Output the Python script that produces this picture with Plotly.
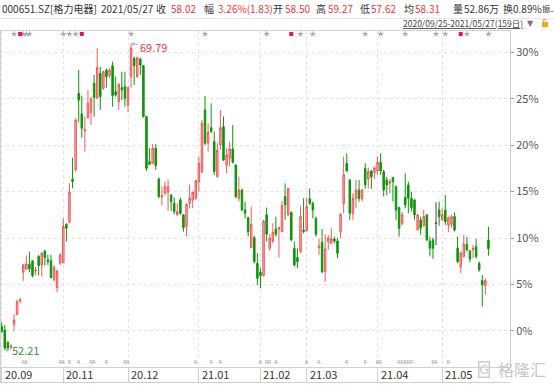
import pandas as pd
import plotly.graph_objects as go

# ---------------- data ----------------
holidays = ["2020-10-01", "2020-10-02", "2020-10-05", "2020-10-06", "2020-10-07", "2020-10-08",
            "2021-01-01", "2021-02-11", "2021-02-12", "2021-02-15", "2021-02-16", "2021-02-17",
            "2021-04-05", "2021-05-03", "2021-05-04", "2021-05-05"]
dates = [d.strftime("%Y-%m-%d") for d in pd.bdate_range("2020-09-25", "2021-05-27")
         if d.strftime("%Y-%m-%d") not in holidays]

opens = [53.55, 53.36, 52.65, 52.36, 53.68, 54.26, 55.02, 56.67, 56.84, 57.13,
         57.32, 56.74, 57.57, 57.09, 57.89, 57.37, 57.32, 56.23, 55.79, 57.18,
         57.22, 59.42, 59.53, 62.00, 62.54, 66.93, 65.75, 64.77, 65.54, 65.84,
         67.51, 66.69, 68.08, 67.22, 68.27, 67.95, 68.52, 67.03, 66.46, 67.26,
         67.32, 66.26, 67.89, 68.94, 67.89, 68.90, 68.52, 65.60, 63.01, 62.92,
         63.78, 62.02, 60.99, 61.20, 61.26, 61.10, 60.62, 59.96, 60.82, 59.96,
         59.29, 60.62, 60.82, 60.91, 61.87, 62.40, 65.98, 64.07, 64.96, 64.16,
         62.15, 63.97, 65.02, 62.82, 63.21, 63.74, 62.82, 60.91, 61.39, 60.24,
         59.80, 58.08, 58.65, 57.18, 56.67, 56.48, 59.96, 58.04, 58.46, 59.15,
         59.15, 59.00, 61.01, 59.96, 60.11, 58.04, 57.51, 57.85, 59.09, 59.04,
         60.87, 60.62, 59.76, 58.08, 58.39, 56.70, 58.43, 58.33, 58.58, 58.46,
         59.00, 60.62, 62.92, 61.96, 60.05, 60.91, 61.39, 60.87, 62.63, 62.02,
         62.48, 62.40, 62.48, 62.98, 62.44, 61.96, 61.77, 62.10, 61.58, 60.38,
         59.48, 60.95, 61.68, 60.91, 60.82, 59.09, 59.67, 59.34, 59.96, 58.46,
         58.52, 59.48, 60.24, 59.67, 60.24, 59.38, 59.42, 59.86, 58.04, 56.99,
         57.57, 58.27, 57.89, 57.97, 58.14, 57.18, 56.19, 55.90, 58.50]
highs = [53.80, 53.65, 52.69, 52.54, 54.26, 55.08, 55.21, 57.13, 57.62, 57.85,
         57.37, 56.99, 57.66, 57.81, 57.95, 57.66, 57.66, 57.09, 56.80, 57.76,
         59.76, 59.48, 61.77, 63.24, 65.50, 68.27, 66.80, 65.60, 67.13, 66.74,
         67.99, 69.52, 68.46, 68.22, 68.37, 68.37, 68.75, 67.89, 67.51, 68.18,
         68.18, 67.32, 69.79, 69.04, 69.04, 68.98, 68.56, 65.63, 63.78, 64.01,
         64.01, 62.10, 61.58, 61.87, 62.00, 61.14, 60.95, 60.62, 60.95, 59.99,
         60.62, 61.71, 61.29, 61.96, 63.30, 65.40, 66.78, 65.21, 66.36, 64.74,
         64.10, 65.98, 65.60, 63.78, 64.16, 65.12, 62.86, 62.15, 61.45, 60.72,
         59.86, 60.43, 58.77, 57.76, 56.90, 59.67, 60.38, 58.85, 59.48, 59.86,
         59.29, 60.76, 61.77, 61.48, 60.15, 58.43, 58.04, 60.49, 60.91, 60.95,
         61.48, 60.72, 59.86, 58.58, 59.15, 58.85, 58.81, 59.19, 58.71, 58.62,
         60.05, 63.30, 63.49, 62.02, 61.20, 61.96, 61.96, 61.43, 62.92, 62.67,
         62.54, 62.73, 63.30, 63.49, 62.54, 62.15, 62.02, 62.15, 61.64, 60.43,
         60.11, 62.35, 61.87, 61.29, 60.82, 59.99, 59.86, 60.24, 59.99, 58.71,
         58.65, 60.68, 60.72, 60.34, 61.10, 59.86, 59.96, 60.11, 58.71, 57.85,
         58.81, 58.71, 57.95, 58.23, 58.58, 57.28, 56.51, 56.32, 59.27]
lows = [53.21, 52.21, 52.25, 52.25, 53.30, 54.18, 54.89, 56.17, 56.80, 56.67,
        56.38, 56.48, 56.48, 56.42, 57.05, 57.09, 56.32, 56.17, 55.52, 57.09,
        57.18, 58.43, 59.48, 61.48, 62.44, 65.27, 64.39, 63.59, 65.46, 65.12,
        65.60, 66.61, 65.98, 67.13, 67.26, 67.79, 66.17, 66.74, 65.98, 66.55,
        66.17, 65.84, 67.26, 67.41, 67.83, 67.99, 65.54, 62.48, 62.82, 62.86,
        62.54, 60.91, 60.49, 61.10, 60.19, 60.19, 59.99, 59.92, 59.96, 59.00,
        58.71, 60.34, 60.34, 60.82, 61.29, 62.40, 63.97, 63.59, 64.64, 62.25,
        62.10, 63.68, 63.05, 62.35, 62.73, 62.92, 60.91, 60.72, 60.19, 59.76,
        58.71, 58.04, 57.18, 55.94, 55.75, 56.42, 58.43, 57.89, 58.33, 58.71,
        57.51, 58.96, 59.67, 59.86, 58.46, 56.99, 56.90, 57.76, 58.90, 59.00,
        60.53, 59.76, 58.71, 57.66, 56.61, 56.13, 57.95, 58.27, 58.33, 57.47,
        58.62, 60.05, 62.44, 59.67, 59.67, 60.34, 60.72, 60.72, 61.45, 61.48,
        61.45, 62.02, 62.25, 62.25, 61.01, 61.10, 61.20, 60.72, 59.67, 58.71,
        59.34, 60.34, 60.05, 60.15, 59.67, 59.09, 58.81, 59.29, 58.46, 57.57,
        57.43, 58.23, 59.34, 59.61, 59.38, 58.96, 59.23, 59.00, 57.18, 56.61,
        57.51, 57.85, 57.24, 57.47, 57.47, 56.70, 54.70, 55.37, 57.62]
closes = [53.26, 52.31, 52.31, 52.44, 53.93, 54.98, 55.08, 57.09, 57.13, 56.86,
          56.48, 56.80, 57.05, 57.76, 57.51, 57.28, 56.36, 56.93, 56.74, 57.66,
          59.29, 59.19, 61.26, 61.87, 65.40, 66.55, 64.93, 64.83, 66.36, 66.61,
          66.69, 68.41, 66.74, 68.18, 67.89, 68.27, 66.80, 66.84, 67.45, 67.13,
          66.65, 67.26, 69.52, 68.52, 68.98, 68.56, 65.60, 62.63, 62.86, 63.78,
          62.79, 61.01, 61.06, 61.58, 61.58, 60.72, 60.15, 60.15, 60.05, 59.23,
          60.57, 60.91, 61.26, 61.92, 62.92, 65.21, 64.07, 64.70, 64.74, 62.44,
          63.68, 64.96, 63.11, 63.40, 63.74, 62.98, 61.01, 61.39, 60.24, 60.05,
          59.00, 59.42, 57.28, 56.32, 56.48, 59.61, 58.85, 58.62, 58.96, 58.85,
          59.23, 60.49, 60.53, 61.48, 58.52, 57.09, 57.28, 59.86, 59.00, 60.43,
          60.62, 60.24, 58.85, 58.16, 56.70, 58.00, 58.62, 58.58, 58.46, 57.76,
          59.99, 62.25, 62.48, 60.05, 60.91, 61.39, 60.91, 61.39, 61.68, 62.44,
          62.15, 62.67, 62.98, 62.48, 61.39, 61.68, 61.87, 61.87, 60.24, 59.19,
          59.96, 60.53, 60.91, 60.38, 59.96, 59.96, 59.19, 59.86, 58.52, 58.04,
          58.04, 59.48, 59.86, 59.96, 59.57, 59.80, 59.86, 59.09, 57.28, 57.76,
          58.27, 57.95, 57.43, 58.04, 57.57, 56.80, 55.94, 56.19, 58.02]

base_price = 53.30
pct_ticks = [0, 5, 10, 15, 20, 25, 30]
month_idx = [0, 20, 41, 64, 84, 99, 122, 143]
month_labels = ["20.09", "20.11", "20.12", "21.01", "21.02", "21.03", "21.04", "21.05"]
star_idx = [4, 7, 8, 9, 20, 22, 24, 42, 66, 86, 97, 101, 118, 123, 131, 141, 144, 151, 158]
flag_idx = [6, 26, 94, 149]
r_idx = [7, 8, 19, 20, 22, 25, 29, 30, 34, 40, 41, 63, 68, 71, 84, 86, 87, 89, 99, 103,
         112, 118, 122, 123, 129, 130, 131, 132, 133, 140, 141, 145]
hi_idx, lo_idx = 42, 1

# ---------------- figure ----------------
RED = "#f24848"
GREEN = "#0b960b"
doji = [i for i in range(len(dates)) if opens[i] == closes[i]]
norm = [i for i in range(len(dates)) if i not in doji]

fig = go.Figure()
fig.add_trace(go.Candlestick(
    x=[dates[i] for i in norm], open=[opens[i] for i in norm], high=[highs[i] for i in norm],
    low=[lows[i] for i in norm], close=[closes[i] for i in norm],
    increasing=dict(line=dict(color=RED, width=0.9), fillcolor="#ffb0b0"),
    decreasing=dict(line=dict(color=GREEN, width=1), fillcolor=GREEN),
    showlegend=False))
fig.add_trace(go.Candlestick(
    x=[dates[i] for i in doji], open=[opens[i] for i in doji], high=[highs[i] for i in doji],
    low=[lows[i] for i in doji], close=[closes[i] for i in doji],
    increasing=dict(line=dict(color="#444", width=1), fillcolor="#444"),
    decreasing=dict(line=dict(color="#444", width=1), fillcolor="#444"),
    showlegend=False))

# event markers on an overlay axis (0..1)
fig.add_trace(go.Scatter(x=[dates[i] for i in star_idx], y=[0.991] * len(star_idx), yaxis="y2",
                         mode="markers", marker=dict(symbol="star", size=5, color="#aaaaaa"),
                         hoverinfo="skip", showlegend=False))
fig.add_trace(go.Scatter(x=[dates[i] for i in flag_idx], y=[0.991] * len(flag_idx), yaxis="y2",
                         mode="markers", marker=dict(symbol="square", size=4, color="#e3174f"),
                         hoverinfo="skip", showlegend=False))
fig.add_trace(go.Scatter(x=[dates[i] for i in r_idx], y=[0.012] * len(r_idx), yaxis="y2",
                         mode="text", text=["R"] * len(r_idx),
                         textfont=dict(size=5, color="#9a9a9a", family="DejaVu Sans"),
                         hoverinfo="skip", showlegend=False))

FONT = "Noto Sans CJK SC"
ann = []
# high / low labels
ann.append(dict(x=dates[hi_idx], y=highs[hi_idx], xref="x", yref="y", text=f"{highs[hi_idx]:.2f}",
                showarrow=True, ax=22, ay=3, arrowcolor="#8fb7d9", arrowwidth=1, arrowhead=2,
                arrowsize=0.7, font=dict(size=11, color="#e8383d", family=FONT)))
ann.append(dict(x=dates[lo_idx], y=lows[lo_idx], xref="x", yref="y", text=f"{lows[lo_idx]:.2f}",
                showarrow=True, ax=21, ay=0, arrowcolor="#8fb7d9", arrowwidth=1, arrowhead=2,
                arrowsize=0.7, font=dict(size=11, color="#2c9a2c", family=FONT)))
# month labels
for i, lab in zip(month_idx, month_labels):
    ann.append(dict(x=dates[i], y=-0.022, xref="x", yref="paper", text=lab, showarrow=False,
                    xanchor="left", yanchor="middle", xshift=1,
                    font=dict(size=11, color="#333333", family=FONT)))

# header
W, PH, TOP = 510.0, 336.0, 31.0
def px(x):
    return x / W
def py(y):
    return (PH + TOP - y) / PH

last = len(dates) - 1
prev_close = closes[last - 1]
chg = closes[last] - prev_close
avg_price = 58.31
volume = "52.86万"
turnover = "0.89%"
header = [
    (1, "000651.SZ[格力电器]", "#333333", 10),
    (100, dates[last].replace("-", "/"), "#333333", 10),
    (155, "收", "#333333", 10), (170, f"{closes[last]:.2f}", "#e8383d", 10),
    (203, "幅", "#333333", 10), (217, f"{chg / prev_close * 100:.2f}%({chg:.2f})", "#e8383d", 10),
    (272, "开", "#333333", 10), (284, f"{opens[last]:.2f}", "#e8383d", 10),
    (315, "高", "#333333", 10), (327, f"{highs[last]:.2f}", "#e8383d", 10),
    (359, "低", "#333333", 10), (370, f"{lows[last]:.2f}", "#e8383d", 10),
    (403, "均", "#333333", 10), (414, f"{avg_price:.2f}", "#e8383d", 10),
    (452, "量", "#333333", 10), (463, volume, "#333333", 10),
    (502, "换", "#333333", 10), (512, turnover, "#333333", 10),
    (541, "振..", "#333333", 8.5),
]
for x, t, c, s in header:
    ann.append(dict(x=px(x), y=py(8.5), xref="paper", yref="paper", text=t, showarrow=False,
                    xanchor="left", yanchor="middle", xshift=-1,
                    font=dict(size=s, color=c, family=FONT)))
ann.append(dict(x=px(402), y=py(23.5), xref="paper", yref="paper",
                text=f"<span style='text-decoration:underline'>{dates[0].replace('-', '/')}-"
                     f"{dates[last].replace('-', '/')}({len(dates)}日)</span>",
                showarrow=False, xanchor="left", yanchor="middle", xshift=-1,
                font=dict(size=8.5, color="#444444", family=FONT)))
ann.append(dict(x=px(526), y=py(23), xref="paper", yref="paper", text="▼", showarrow=False,
                xanchor="left", yanchor="middle", xshift=-1,
                font=dict(size=8, color="#777777", family="DejaVu Sans")))
# watermark
ann.append(dict(x=px(478), y=py(369), xref="paper", yref="paper", text="G", showarrow=False,
                xanchor="left", yanchor="middle", bordercolor="#cccccc", borderwidth=1.5, borderpad=0,
                font=dict(size=12, color="#c8c8c8", family="DejaVu Sans")))
ann.append(dict(x=px(496), y=py(369), xref="paper", yref="paper", text="格隆汇", showarrow=False,
                xanchor="left", yanchor="middle", font=dict(size=16, color="#c8c8c8", family=FONT)))

shapes = [
    dict(type="line", xref="paper", yref="paper", x0=0, x1=px(554), y0=py(18.5), y1=py(18.5),
         line=dict(color="#e6e6e6", width=1)),
    dict(type="line", xref="paper", yref="paper", x0=0, x1=1, y0=py(382.5), y1=py(382.5),
         line=dict(color="#d0d0d0", width=1)),
    dict(type="line", xref="paper", yref="paper", x0=px(0.5), x1=px(0.5), y0=py(382.5), y1=1,
         line=dict(color="#d0d0d0", width=1)),
    # lock icon
    dict(type="rect", xref="paper", yref="paper", x0=px(542), x1=px(548), y0=py(27), y1=py(22),
         fillcolor="#f2a71b", line=dict(width=0)),
    dict(type="path", xref="paper", yref="paper",
         path=f"M {px(543.5)},{py(22)} L {px(543.5)},{py(19.5)} L {px(546.5)},{py(19.5)}",
         line=dict(color="#f2a71b", width=1)),
]

fig.update_layout(
    width=554, height=385,
    margin=dict(l=0, r=44, t=31, b=18),
    paper_bgcolor="white", plot_bgcolor="white",
    annotations=ann, shapes=shapes,
    boxgap=0.3,
    xaxis=dict(type="category", categoryorder="array", categoryarray=dates,
               range=[-0.55, 165.0], rangeslider=dict(visible=False),
               tickmode="array", tickvals=[dates[i] for i in month_idx], showticklabels=False,
               ticks="outside", ticklen=15, tickcolor="#d0d0d0", tickwidth=1,
               showgrid=True, gridcolor="#e2e2e2", griddash="3px,3px", gridwidth=1,
               showline=True, linecolor="#cfd3d8", linewidth=1, mirror=True, zeroline=False),
    yaxis=dict(side="right", range=[51.23, 70.51],
               tickmode="array", tickvals=[base_price * (1 + p / 100) for p in pct_ticks],
               ticktext=[f"{p}%" for p in pct_ticks],
               ticks="outside", ticklen=3, tickcolor="#999999",
               tickfont=dict(size=11, color="#555555", family=FONT),
               showgrid=True, gridcolor="#e2e2e2", griddash="3px,3px", gridwidth=1,
               showline=True, linecolor="#c8c8c8", linewidth=1, mirror=True, zeroline=False),
    yaxis2=dict(overlaying="y", range=[0, 1], visible=False),
    hovermode=False,
)

fig.write_html("out.html")
